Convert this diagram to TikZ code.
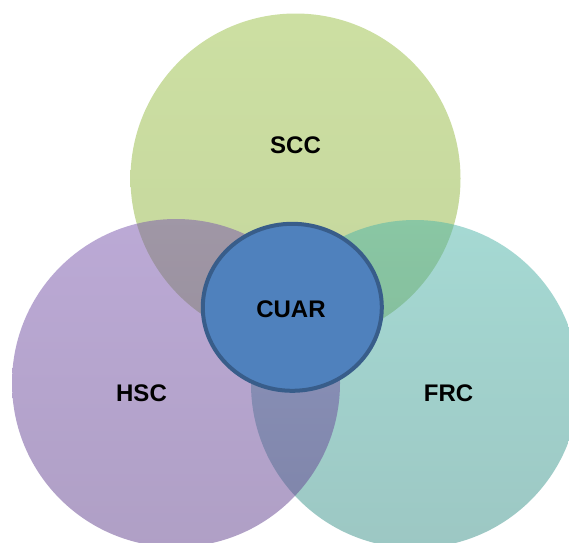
\documentclass[tikz,border=0pt]{standalone}
\usepackage{fontspec}
\setmainfont{Liberation Sans}
\usetikzlibrary{shapes.geometric}
\definecolor{sccTop}{RGB}{155,193,71}
\definecolor{sccBot}{RGB}{140,175,60}
\definecolor{hscTop}{RGB}{121,85,173}
\definecolor{hscBot}{RGB}{97,65,141}
\definecolor{frcTop}{RGB}{77,181,169}
\definecolor{frcBot}{RGB}{59,145,137}
\definecolor{cuarFill}{RGB}{79,129,189}
\definecolor{cuarLine}{RGB}{56,93,138}
\begin{document}
\begin{tikzpicture}[x=1pt,y=-1pt,
  setcircle/.style={circle, inner sep=0pt, fill opacity=0.5, draw=none},
  lbl/.style={font=\bfseries\fontsize{24}{28}\selectfont, text=black, inner sep=0pt}]
\useasboundingbox (0,0) rectangle (569,542);
\clip (0,0) rectangle (569,542);
\fill[white] (0,0) rectangle (569,542);
\node[setcircle, minimum size=330pt, top color=sccTop, bottom color=sccBot] (scc) at (295.5,178.5) {};
\node[setcircle, minimum size=328pt, top color=frcTop, bottom color=frcBot] (frc) at (415,384) {};
\node[setcircle, minimum size=328pt, top color=hscTop, bottom color=hscBot] (hsc) at (176,383) {};
\node[ellipse, draw=cuarLine, fill=cuarFill, line width=4pt, minimum width=179pt, minimum height=167pt, inner sep=0pt] (cuar) at (292.3,307.3) {};
\node[lbl] (sccl) at (295.5,145) {SCC};
\node[lbl] (hscl) at (141.5,393.5) {HSC};
\node[lbl] (frcl) at (448.5,393.5) {FRC};
\node[lbl] (cuarl) at (291,309) {CUAR};
\end{tikzpicture}
\end{document}
